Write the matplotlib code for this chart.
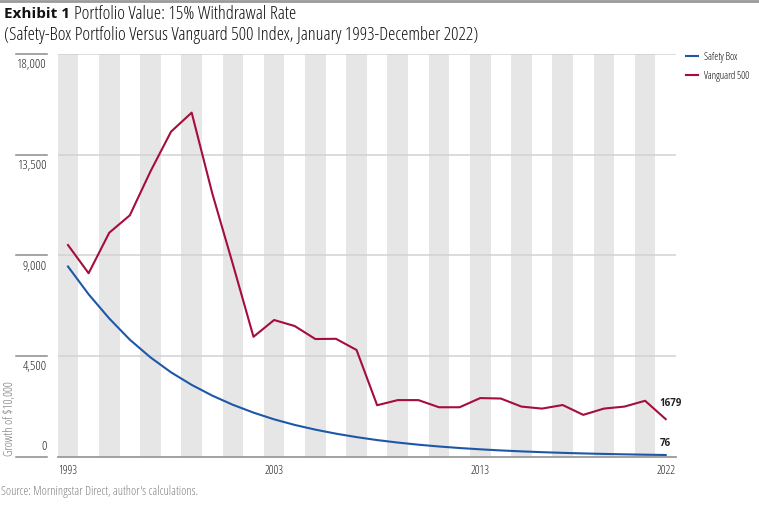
import matplotlib
matplotlib.use('Agg')
import matplotlib.pyplot as plt
import matplotlib.transforms as mtransforms
from matplotlib import font_manager

# look for a narrow sans (the original uses a condensed face)
fam, stretch = 'Roboto', 'normal'
found = {}
for f in font_manager.fontManager.ttflist:
    found.setdefault((f.name, f.stretch), True)
for cand in [('Roboto Condensed', 'normal'), ('Liberation Sans Narrow', 'normal'),
             ('Noto Sans', 'semi-condensed'), ('Open Sans', 'semi-condensed'),
             ('Roboto', 'semi-condensed'), ('Noto Sans', 'condensed'),
             ('Open Sans', 'condensed'), ('Roboto', 'condensed')]:
    if cand in found:
        fam, stretch = cand
        break
plt.rcParams['font.family'] = [fam, 'DejaVu Sans']
plt.rcParams['font.stretch'] = stretch

years = list(range(1993, 2023))
safety_box = [8500, 7260, 6180, 5230, 4440, 3770, 3210, 2730, 2320, 1970,
              1670, 1420, 1210, 1030, 875, 743, 632, 537, 456, 388,
              330, 280, 238, 202, 172, 146, 124, 106, 90, 76]
vanguard = [9460, 8200, 10010, 10790, 12750, 14530, 15380, 11770, 8600, 5360,
            6110, 5840, 5260, 5270, 4770, 2300, 2530, 2530, 2210, 2210,
            2620, 2600, 2240, 2150, 2310, 1870, 2150, 2240, 2500, 1679]
yticks = [0, 4500, 9000, 13500, 18000]
ytick_labels = ['0', '4,500', '9,000', '13,500', '18,000']
xticks = [1993, 2003, 2013, 2022]

red = '#a50d3b'
blue = '#1d58a8'

fig = plt.figure(figsize=(7.59, 5.08), dpi=100)
ax = fig.add_axes([57.7/759, 1-456.7/508, (676-57.7)/759, (456.7-54)/508])
renderer = fig.canvas.get_renderer()


def fit(texts, ref, width, horiz=True):
    # scale font sizes so that `ref` is about `width` pixels wide
    bb = ref.get_window_extent(renderer)
    w = bb.width if horiz else bb.height
    k = width / w
    for t in texts:
        t.set_fontsize(t.get_fontsize() * k)


# alternating year bands
for yr in range(1993, 2022, 2):
    ax.axvspan(yr - 0.5, yr + 0.5, color='#e6e6e6', lw=0, zorder=0)

for v in yticks[1:]:
    ax.axhline(v, color='#d2d2d2', lw=1.1, zorder=1)

ax.plot(years, safety_box, color=blue, lw=1.5, label='Safety Box', zorder=3)
ax.plot(years, vanguard, color=red, lw=1.5, label='Vanguard 500', zorder=3)

ax.set_xlim(1992.5, 2022.5)
ax.set_ylim(0, 18000)
for s in ['top', 'right', 'left']:
    ax.spines[s].set_visible(False)
ax.spines['bottom'].set_color('#9a9a9a')
ax.spines['bottom'].set_linewidth(1.3)

ax.set_yticks([])
ax.set_xticks(xticks)
xlabs = ax.set_xticklabels([str(x) for x in xticks], fontsize=8.5, color='#222222')
ax.tick_params(axis='x', length=0, pad=5)
fit(xlabs, xlabs[0], 19)

# y labels sit under short lines left of the plot
trans = mtransforms.blended_transform_factory(ax.transAxes, ax.transData)
ylabs = []
for v, lab in zip(yticks, ytick_labels):
    ax.plot([-0.0675, -0.0173], [v, v], color='#8c8c8c', lw=1.1,
            transform=trans, clip_on=False)
    if v == 0:
        a = ax.annotate(lab, (-0.0173, v), xycoords=trans, xytext=(0, 3),
                        textcoords='offset points', ha='right', va='bottom',
                        fontsize=8.5, color='#222222')
    else:
        a = ax.annotate(lab, (-0.0173, v), xycoords=trans, xytext=(0, -3),
                        textcoords='offset points', ha='right', va='top',
                        fontsize=8.5, color='#222222')
    ylabs.append(a)
fit(ylabs, ylabs[-1], 29)

# end labels
ax.annotate('1679', (2022, vanguard[-1]), xytext=(-4.5, 11.5),
            textcoords='offset points', ha='left', va='center',
            fontsize=7, fontweight='bold', color='#222222')
ax.annotate('76', (2022, safety_box[-1]), xytext=(-4.5, 8.5),
            textcoords='offset points', ha='left', va='center',
            fontsize=7, fontweight='bold', color='#222222')

yl = fig.text(10/759, 1-456/508, 'Growth of $10,000', rotation=90, ha='center',
              va='bottom', fontsize=8, color='#777777')
fit([yl], yl, 75, horiz=False)

leg = fig.legend(loc='upper left', bbox_to_anchor=(686/759, 1-52/508), frameon=False,
                 fontsize=8, handlelength=1.1, handletextpad=0.5, labelspacing=0.75,
                 borderpad=0, borderaxespad=0)
fit(leg.get_texts(), leg.get_texts()[1], 45)

# title block
fig.add_artist(plt.Line2D([0, 1], [1-1/508, 1-1/508], color='#9a9a9a', lw=2))
t1 = fig.text(4/759, 1-14/508, 'Exhibit 1', fontsize=11, fontweight='bold',
              va='center', color='#111111')
x1 = t1.get_window_extent(renderer).x1
fig.text((x1 + 4)/759, 1-14/508, 'Portfolio Value: 15% Withdrawal Rate',
         fontsize=13.3, va='center', color='#111111')
fig.text(4/759, 1-35/508,
         '(Safety-Box Portfolio Versus Vanguard 500 Index, January 1993-December 2022)',
         fontsize=13.3, va='center', color='#111111')
src = fig.text(1/759, 1-492/508, "Source: Morningstar Direct, author's calculations.",
               fontsize=7.5, va='center', color='#808080')
fit([src], src, 196)

fig.savefig('out.png', dpi=100)
